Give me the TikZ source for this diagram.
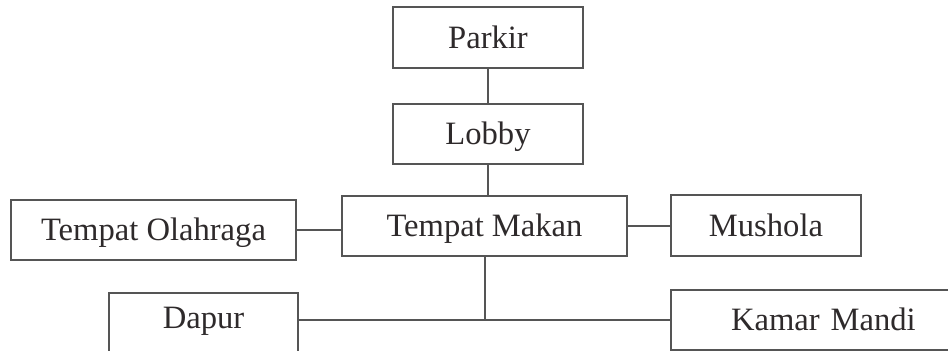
\documentclass[tikz,border=0pt]{standalone}
\usepackage{fontspec}
\setmainfont{Liberation Serif}
\definecolor{boxline}{HTML}{555555}
\definecolor{boxtext}{HTML}{2E2A2B}
\tikzset{
  room/.style={draw=boxline, line width=1pt, fill=white, text=boxtext,
    inner sep=0pt, text height=10.8pt, text depth=0pt,
    font=\fontsize{16.3}{19}\selectfont},
  link/.style={draw=boxline, line width=1pt}
}
\begin{document}
\begin{tikzpicture}[x=0.5pt, y=-0.5pt]
\useasboundingbox (0,0) rectangle (948,351);
% ruang
\node[room, minimum width=95pt, minimum height=30.5pt] (parkir) at (488,37.5) {Parkir};
\node[room, minimum width=95pt, minimum height=30pt] (lobby) at (488,134) {Lobby};
\node[room, minimum width=142.5pt, minimum height=30pt] (makan) at (484.5,226) {Tempat Makan};
\node[room, minimum width=142.5pt, minimum height=30pt] (olahraga) at (153.5,230) {Tempat Olahraga};
\node[room, minimum width=95pt, minimum height=30.5pt] (mushola) at (766,226) {Mushola};
\node[room, minimum width=94.5pt, anchor=north, inner ysep=7pt, text depth=30pt] (dapur) at (203.5,292) {Dapur};
\node[room, draw=none, anchor=west, minimum height=29pt, inner xsep=29.5pt, text width=200pt, align=left] (kamar) at (671,320) {Kamar Mandi};
\draw[link] (kamar.north east) -- (kamar.north west) -- (kamar.south west) -- (kamar.south east);
% garis penghubung
\draw[link] (parkir) -- (lobby);
\draw[link] (lobby.south) -- (lobby.south |- makan.north);
\draw[link] (olahraga.east) -- (olahraga.east -| makan.west);
\draw[link] (makan.east) -- (makan.east -| mushola.west);
\coordinate (simpang) at (makan.south |- kamar.west);
\draw[link] (makan.south) -- (simpang);
\draw[link] (dapur.east |- kamar.west) -- (kamar.west);
\end{tikzpicture}
\end{document}
